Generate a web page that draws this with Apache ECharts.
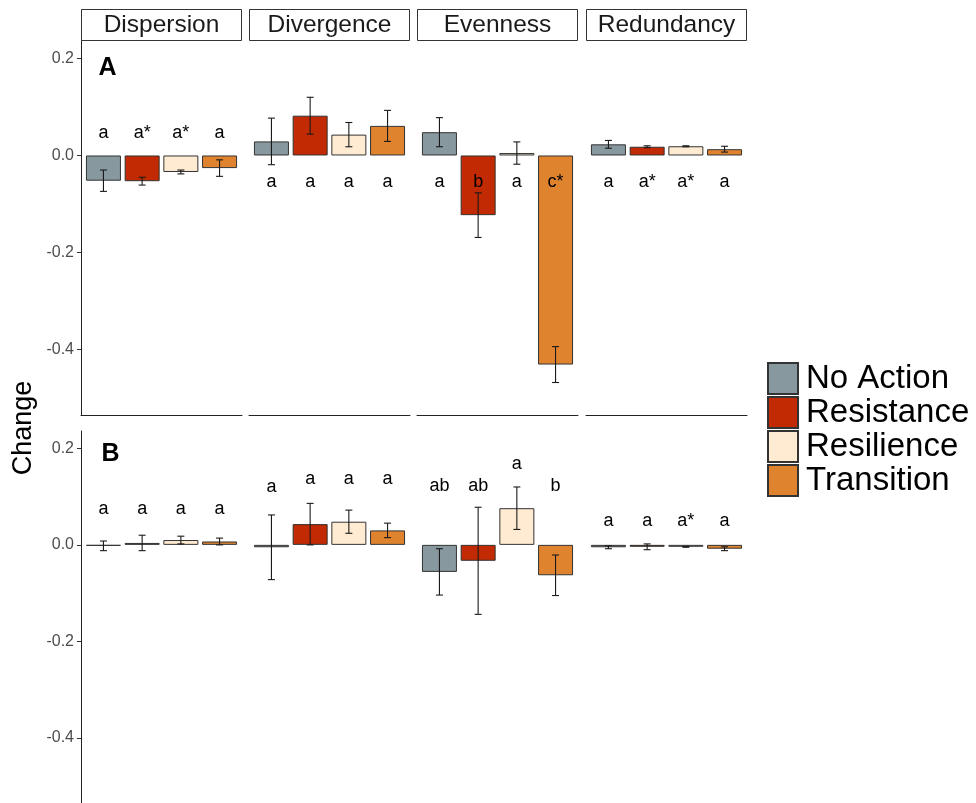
<!DOCTYPE html>
<html><head><meta charset="utf-8">
<script src="https://cdn.jsdelivr.net/npm/echarts@6/dist/echarts.min.js"></script>
<style>html,body{margin:0;padding:0;background:#fff}#c{width:976px;height:803px}</style>
</head><body><div id="c"></div>
<script>
// ---- data ----
const metrics = ['Dispersion', 'Divergence', 'Evenness', 'Redundancy'];
const treatments = ['No Action', 'Resistance', 'Resilience', 'Transition'];
const yTicks = [-0.4, -0.2, 0, 0.2];

// Panel A (rows = metrics, cols = treatments)
const meanA = [
  [-0.052, -0.053, -0.034, -0.026],
  [0.029, 0.082, 0.043, 0.061],
  [0.048, -0.123, 0.005, -0.431],
  [0.023, 0.018, 0.019, 0.013]
];
const seA = [
  [0.022, 0.008, 0.004, 0.017],
  [0.048, 0.038, 0.025, 0.032],
  [0.030, 0.046, 0.023, 0.037],
  [0.008, 0.002, 0.001, 0.006]
];
const lettersA = [
  ['a', 'a*', 'a*', 'a'],
  ['a', 'a', 'a', 'a'],
  ['a', 'b', 'a', 'c*'],
  ['a', 'a*', 'a*', 'a']
];
const letterYA = [
  [0.046, 0.046, 0.046, 0.046],
  [-0.055, -0.055, -0.055, -0.055],
  [-0.055, -0.055, -0.055, -0.055],
  [-0.055, -0.055, -0.055, -0.055]
];

// Panel B
const meanB = [
  [-0.002, 0.004, 0.010, 0.007],
  [-0.005, 0.043, 0.048, 0.030],
  [-0.056, -0.033, 0.076, -0.063],
  [-0.005, -0.004, -0.004, -0.008]
];
const seB = [
  [0.010, 0.016, 0.008, 0.007],
  [0.067, 0.043, 0.024, 0.015],
  [0.048, 0.111, 0.044, 0.042],
  [0.003, 0.006, 0.001, 0.004]
];
const lettersB = [
  ['a', 'a', 'a', 'a'],
  ['a', 'a', 'a', 'a'],
  ['ab', 'ab', 'a', 'b'],
  ['a', 'a', 'a*', 'a']
];
const letterYB = [
  [0.074, 0.074, 0.074, 0.074],
  [0.120, 0.136, 0.136, 0.136],
  [0.122, 0.122, 0.168, 0.122],
  [0.050, 0.050, 0.050, 0.050]
];
const panelLabels = ['A', 'B'];

// ---- layout / style ----
const FONT = '"Liberation Sans", Arial, Helvetica, sans-serif';
const colors = ['#87989F', '#C22A03', '#FFEBD1', '#E0832F'];
const facetLeft = [81, 249, 417, 586];
const facetW = 161;
const YMIN = -0.535, YMAX = 0.236;
const rows = [
  { top: 41, height: 374, mean: meanA, se: seA, letters: lettersA, ly: letterYA, showX: true },
  { top: 431, height: 374, mean: meanB, se: seB, letters: lettersB, ly: letterYB, showX: false }
];

const grid = [], xAxis = [], yAxis = [], series = [];
rows.forEach((row, r) => {
  metrics.forEach((m, f) => {
    const gi = r * 4 + f;
    grid.push({ left: facetLeft[f], top: row.top, width: facetW, height: row.height, containLabel: false });
    xAxis.push({
      type: 'value', gridIndex: gi, min: -0.58, max: 3.58,
      axisLine: { show: row.showX, onZero: false, lineStyle: { color: '#222', width: 1 } },
      axisTick: { show: false }, axisLabel: { show: false }, splitLine: { show: false }
    });
    yAxis.push({
      type: 'value', gridIndex: gi, min: YMIN, max: YMAX, show: f === 0,
      axisLine: { show: true, onZero: false, lineStyle: { color: '#222', width: 1 } },
      axisTick: { show: true, length: 4, customValues: yTicks, lineStyle: { color: '#333' } },
      axisLabel: {
        customValues: yTicks, margin: 7, fontSize: 16, fontFamily: FONT, color: '#4D4D4D',
        formatter: v => Number(v).toFixed(1)
      },
      splitLine: { show: false }
    });
    treatments.forEach((t, k) => {
      series.push({
        type: 'bar', name: t, xAxisIndex: gi, yAxisIndex: gi, stack: 'g' + gi,
        barWidth: 35, data: [[k, row.mean[f][k]]],
        itemStyle: { color: colors[k], borderColor: '#333', borderWidth: 1 },
        emphasis: { disabled: true }, silent: true
      });
    });
    // error bars
    series.push({
      type: 'custom', xAxisIndex: gi, yAxisIndex: gi, z: 5, silent: true,
      data: treatments.map((t, k) => [k, row.mean[f][k], row.se[f][k]]),
      encode: { x: 0, y: 1 },
      renderItem: (params, api) => {
        const x = api.value(0), mu = api.value(1), s = api.value(2);
        const p1 = api.coord([x, mu + s]), p2 = api.coord([x, mu - s]);
        const hw = 3.5, st = { stroke: '#1a1a1a', lineWidth: 1.1 };
        return {
          type: 'group', children: [
            { type: 'line', shape: { x1: p1[0], y1: p1[1], x2: p2[0], y2: p2[1] }, style: st },
            { type: 'line', shape: { x1: p1[0] - hw, y1: p1[1], x2: p1[0] + hw, y2: p1[1] }, style: st },
            { type: 'line', shape: { x1: p2[0] - hw, y1: p2[1], x2: p2[0] + hw, y2: p2[1] }, style: st }
          ]
        };
      }
    });
    // significance letters
    series.push({
      type: 'custom', xAxisIndex: gi, yAxisIndex: gi, z: 6, silent: true,
      data: treatments.map((t, k) => [k, row.ly[f][k]]),
      encode: { x: 0, y: 1 },
      renderItem: (params, api) => {
        const p = api.coord([api.value(0), api.value(1)]);
        return {
          type: 'text', x: p[0], y: p[1],
          style: {
            text: row.letters[f][params.dataIndex], fill: '#000', fontSize: 18,
            fontFamily: FONT, align: 'center', verticalAlign: 'middle'
          }
        };
      }
    });
  });
});

const graphic = [];
metrics.forEach((m, f) => {
  graphic.push({
    type: 'rect', shape: { x: facetLeft[f] + 0.5, y: 9.5, width: facetW - 1, height: 31 },
    style: { fill: '#fff', stroke: '#333', lineWidth: 1 }, silent: true
  });
  graphic.push({
    type: 'text', x: facetLeft[f] + facetW / 2, y: 25.5,
    style: { text: m, fontSize: 24.5, fontFamily: FONT, fill: '#1a1a1a', align: 'center', verticalAlign: 'middle' },
    silent: true
  });
});
graphic.push({
  type: 'text', x: 24, y: 428, rotation: Math.PI / 2,
  style: { text: 'Change', fontSize: 27, fontFamily: FONT, fill: '#000', align: 'center', verticalAlign: 'middle' }
});
graphic.push({
  type: 'text', x: 107.5, y: 68.5,
  style: { text: panelLabels[0], fontSize: 25, fontWeight: 'bold', fontFamily: FONT, fill: '#000', align: 'center', verticalAlign: 'middle' }
});
graphic.push({
  type: 'text', x: 110.5, y: 454.5,
  style: { text: panelLabels[1], fontSize: 25, fontWeight: 'bold', fontFamily: FONT, fill: '#000', align: 'center', verticalAlign: 'middle' }
});

const chart = echarts.init(document.getElementById('c'), null, { renderer: 'canvas' });
chart.setOption({
  animation: false,
  backgroundColor: '#fff',
  textStyle: { fontFamily: FONT },
  legend: {
    orient: 'vertical', left: 767, top: 362, padding: 0, itemWidth: 30, itemHeight: 31, itemGap: 1,
    icon: 'rect', data: treatments, selectedMode: false,
    textStyle: { fontSize: 33, fontFamily: FONT, color: '#000', lineHeight: 31, padding: [0, 0, 0, 3] }
  },
  grid, xAxis, yAxis, series, graphic
});
</script>
</body></html>
